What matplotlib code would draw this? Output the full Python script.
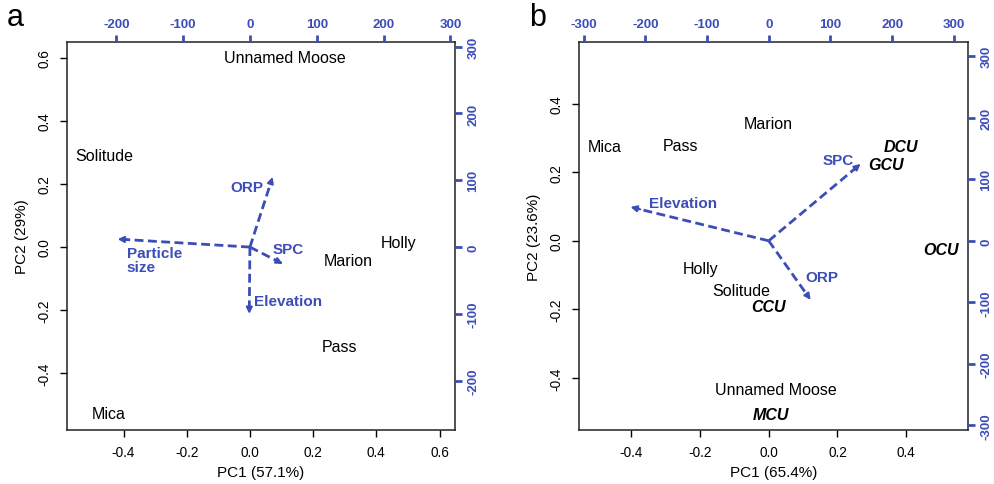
import matplotlib
matplotlib.use("Agg")
import matplotlib.pyplot as plt
import numpy as np

plt.rcParams['font.family'] = ['Liberation Sans', 'DejaVu Sans']
plt.rcParams['axes.unicode_minus'] = False

blue = '#3d4db7'

# panel a : site scores (PC1, PC2)
a_sites = ['Unnamed Moose', 'Solitude', 'Holly', 'Marion', 'Pass', 'Mica']
a_pc1 = [0.11, -0.46, 0.47, 0.31, 0.285, -0.446]
a_pc2 = [0.60, 0.29, 0.013, -0.044, -0.316, -0.528]
# panel a : variable loadings (top/right scale)
a_vars = ['ORP', 'SPC', 'Elevation', 'Particle\nsize']
a_load_x = [34, 49, -1, -198]
a_load_y = [105, -25, -100, 12]
a_lab_x = [-4, 57, 57, -143]
a_lab_y = [90, -3, -81, -19]

# panel b : site scores
b_sites = ['Mica', 'Pass', 'Marion', 'Holly', 'Solitude', 'Unnamed Moose']
b_pc1 = [-0.477, -0.256, 0.0, -0.198, -0.08, 0.02]
b_pc2 = [0.274, 0.279, 0.343, -0.082, -0.146, -0.434]
# panel b : group labels
b_groups = ['DCU', 'GCU', 'OCU', 'CCU', 'MCU']
b_grp_pc1 = [0.384, 0.34, 0.50, 0.0, 0.006]
b_grp_pc2 = [0.274, 0.224, -0.026, -0.192, -0.507]
# panel b : variable loadings
b_vars = ['Elevation', 'SPC', 'ORP']
b_load_x = [-224, 149, 68]
b_load_y = [55, 125, -96]
b_lab_x = [-138, 112, 86]
b_lab_y = [62, 131, -58]


def make_panel(rect, lim, k, xlab, ylab, pticks, sticks):
    ax = fig.add_axes(rect)
    ax.set_xlim(lim)
    ax.set_ylim(lim)
    ax.set_xticks(pticks)
    ax.set_yticks(pticks)
    ax.set_xticklabels(['%.1f' % t for t in pticks])
    ax.set_yticklabels(['%.1f' % t for t in pticks], rotation=90, va='center')
    ax.tick_params(direction='out', length=5, width=1, labelsize=9.8, pad=6)
    ax.set_xlabel(xlab, fontsize=11, labelpad=4)
    ax.set_ylabel(ylab, fontsize=11, labelpad=6)
    for s in ax.spines.values():
        s.set_linewidth(1.1)
        s.set_color('#222222')

    ax2 = fig.add_axes(rect)
    ax2.patch.set_visible(False)
    ax2.set_xlim(lim[0] * k, lim[1] * k)
    ax2.set_ylim(lim[0] * k, lim[1] * k)
    for s in ax2.spines.values():
        s.set_visible(False)
    ax2.xaxis.tick_top()
    ax2.yaxis.tick_right()
    ax2.set_xticks(sticks)
    ax2.set_yticks(sticks)
    ax2.set_xticklabels([str(t) for t in sticks], fontweight='bold')
    ax2.set_yticklabels([str(t) for t in sticks], fontweight='bold',
                        rotation=90, va='center')
    ax2.tick_params(direction='out', length=5, width=2, color=blue,
                    labelcolor=blue, labelsize=9.5, pad=4)
    return ax, ax2


def draw_arrows(ax2, xs, ys):
    for x, y in zip(xs, ys):
        ax2.plot([0, x * 0.95], [0, y * 0.95], color=blue, lw=2,
                 ls=(0, (3.2, 1.6)), solid_capstyle='butt')
        ax2.annotate('', xy=(x, y), xytext=(x * 0.93, y * 0.93),
                     arrowprops=dict(arrowstyle='-|>', color=blue, lw=1.5,
                                     mutation_scale=9, shrinkA=0, shrinkB=0))


fig = plt.figure(figsize=(9.95, 4.85), dpi=100)

# ---- panel a
ax, ax2 = make_panel([0.0673, 0.1113, 0.390, 0.80], (-0.579, 0.649), 473,
                     'PC1 (57.1%)', 'PC2 (29%)',
                     np.arange(-0.4, 0.61, 0.2), [-200, -100, 0, 100, 200, 300])
for name, x, y in zip(a_sites, a_pc1, a_pc2):
    ax.text(x, y, name, ha='center', va='center', fontsize=11.5)
draw_arrows(ax2, a_load_x, a_load_y)
for name, x, y in zip(a_vars, a_lab_x, a_lab_y):
    ax2.text(x, y, name, ha='center', va='center', multialignment='left',
             fontsize=11, fontweight='bold', color=blue, linespacing=1.0)

# ---- panel b
bx, bx2 = make_panel([0.5819, 0.1113, 0.391, 0.80], (-0.552, 0.58), 557,
                     'PC1 (65.4%)', 'PC2 (23.6%)',
                     np.arange(-0.4, 0.41, 0.2),
                     [-300, -200, -100, 0, 100, 200, 300])
for name, x, y in zip(b_sites, b_pc1, b_pc2):
    bx.text(x, y, name, ha='center', va='center', fontsize=11.5)
for name, x, y in zip(b_groups, b_grp_pc1, b_grp_pc2):
    bx.text(x, y, name, ha='center', va='center', fontsize=11.5,
            fontweight='bold', fontstyle='italic')
draw_arrows(bx2, b_load_x, b_load_y)
for name, x, y in zip(b_vars, b_lab_x, b_lab_y):
    bx2.text(x, y, name, ha='center', va='center',
             fontsize=11, fontweight='bold', color=blue)

fig.text(0.015, 0.963, 'a', fontsize=22, ha='center', va='center')
fig.text(0.54, 0.963, 'b', fontsize=22, ha='center', va='center')

fig.savefig('out.png', dpi=100)
